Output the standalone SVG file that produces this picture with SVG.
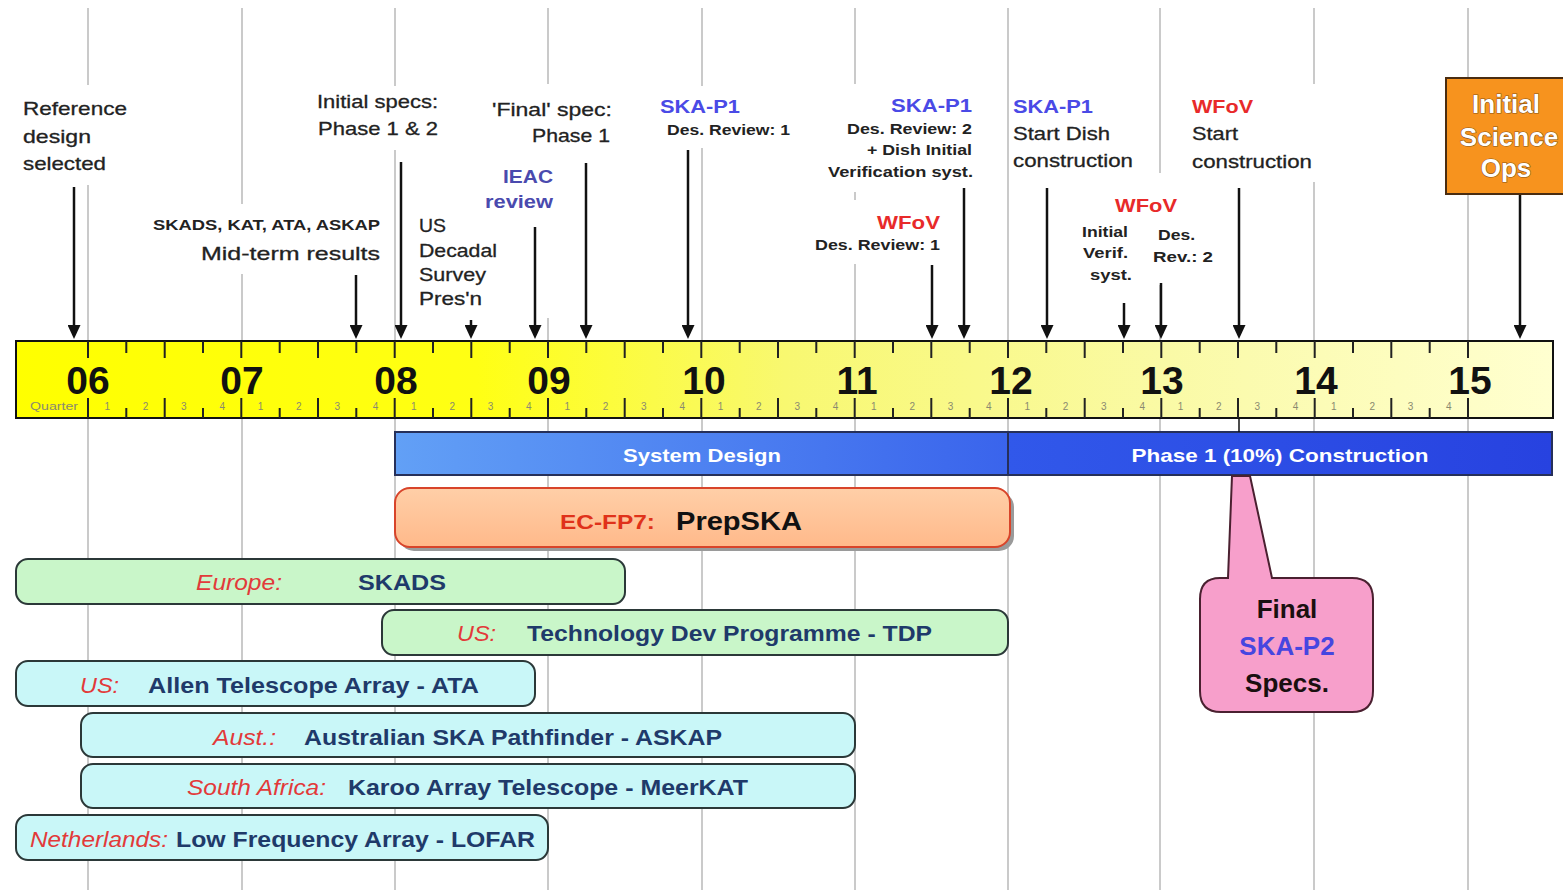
<svg xmlns="http://www.w3.org/2000/svg" width="1563" height="890" viewBox="0 0 1563 890">
<style>
text{font-family:'Liberation Sans',Arial,sans-serif}
.grid{stroke:#cacaca;stroke-width:2;fill:none}
.mask{fill:#fff}
.arrow{stroke:#111;stroke-width:2.5;fill:none;marker-end:url(#ah)}
.lbl{font-size:19px;fill:#222;stroke:#222;stroke-width:0.3}
.sm{font-size:15px;font-weight:bold;fill:#222}
.skab{font-size:19px;font-weight:bold;fill:#4a4ae6}
.ieac{font-size:19px;font-weight:bold;fill:#4a4aae}
.wfov{font-size:19px;font-weight:bold;fill:#e82a2a}
.yr{font-size:39px;font-weight:bold;fill:#111;text-anchor:middle}
.qn{font-size:10px;fill:#8a8a70;text-anchor:middle}
.tick{stroke:#222;stroke-width:2;fill:none}
.phase{font-size:19px;font-weight:bold;fill:#fff;text-anchor:middle}
.pbar{stroke:#26305a;stroke-width:2}
.green{fill:#c9f6c9;stroke:#2b3838;stroke-width:2}
.cyan{fill:#c9f7f8;stroke:#2b3838;stroke-width:2}
.cty{font-size:22px;font-style:italic;fill:#e23a3a}
.prj{font-size:22px;font-weight:bold;fill:#1f3a6a}
.big{font-size:26px;font-weight:bold;text-anchor:middle}
</style>
<defs>
<linearGradient id="rulerg" x1="0" y1="0" x2="1" y2="0">
<stop offset="0" stop-color="#ffff00"/>
<stop offset="0.3" stop-color="#ffff14"/>
<stop offset="0.5" stop-color="#f8f870"/>
<stop offset="0.75" stop-color="#fafaa6"/>
<stop offset="1" stop-color="#ffffd0"/>
</linearGradient>
<linearGradient id="sdg" x1="0" y1="0" x2="1" y2="0">
<stop offset="0" stop-color="#62a0f6"/>
<stop offset="1" stop-color="#3a64ec"/>
</linearGradient>
<linearGradient id="p1g" x1="0" y1="0" x2="1" y2="0">
<stop offset="0" stop-color="#3158ea"/>
<stop offset="1" stop-color="#2742e0"/>
</linearGradient>
<linearGradient id="peachg" x1="0" y1="0" x2="0" y2="1">
<stop offset="0" stop-color="#ffcfa8"/>
<stop offset="1" stop-color="#ffb98a"/>
</linearGradient>
<marker id="ah" markerUnits="userSpaceOnUse" markerWidth="14" markerHeight="13" viewBox="0 0 14 13" refX="10" refY="6.5" orient="auto">
<path d="M0,0 L14,6.5 L0,13 Z" fill="#111"/>
</marker>
</defs>
<rect width="1563" height="890" fill="#fff"/>

<g id="grid">
<path class="grid" d="M88,8V890M242,8V890M395,8V890M548,8V890M702,8V890M855,8V890M1008,8V890M1160,8V890M1314,8V890M1468,8V890"/>
</g>

<g id="label-masks">
<rect class="mask" x="18" y="85" width="114" height="100"/>
<rect class="mask" x="310" y="86" width="132" height="64"/>
<rect class="mask" x="148" y="204" width="238" height="70"/>
<rect class="mask" x="412" y="210" width="90" height="100"/>
<rect class="mask" x="478" y="84" width="140" height="234"/>
<rect class="mask" x="655" y="86" width="140" height="62"/>
<rect class="mask" x="822" y="84" width="155" height="108"/>
<rect class="mask" x="808" y="200" width="140" height="64"/>
<rect class="mask" x="1011" y="86" width="128" height="88"/>
<rect class="mask" x="1186" y="84" width="132" height="98"/>
<rect class="mask" x="1075" y="173" width="142" height="112"/>
</g>

<g id="ruler">
<rect x="16" y="341" width="1537" height="77" fill="url(#rulerg)" stroke="#111" stroke-width="2"/>
<path class="tick" d="M88,341V358M126.3,341V353M164.7,341V358M203,341V353M241.3,341V358M279.7,341V353M318,341V358M356.3,341V353M394.7,341V358M433,341V353M471.3,341V358M509.7,341V353M548,341V358M586.3,341V353M624.7,341V358M663,341V353M701.3,341V358M739.7,341V353M778,341V358M816.3,341V353M854.7,341V358M893,341V353M931.3,341V358M969.7,341V353M1008,341V358M1046.3,341V353M1084.7,341V358M1123,341V353M1161.3,341V358M1199.7,341V353M1238,341V358M1276.3,341V353M1314.7,341V358M1353,341V353M1391.3,341V358M1429.7,341V353M1468,341V358"/>
<path class="tick" d="M88,418V398M126.3,418V408M164.7,418V398M203,418V408M241.3,418V398M279.7,418V408M318,418V398M356.3,418V408M394.7,418V398M433,418V408M471.3,418V398M509.7,418V408M548,418V398M586.3,418V408M624.7,418V398M663,418V408M701.3,418V398M739.7,418V408M778,418V398M816.3,418V408M854.7,418V398M893,418V408M931.3,418V398M969.7,418V408M1008,418V398M1046.3,418V408M1084.7,418V398M1123,418V408M1161.3,418V398M1199.7,418V408M1238,418V398M1276.3,418V408M1314.7,418V398M1353,418V408M1391.3,418V398M1429.7,418V408M1468,418V398"/>
<text class="yr" x="88" y="394">06</text>
<text class="yr" x="242" y="394">07</text>
<text class="yr" x="396" y="394">08</text>
<text class="yr" x="549" y="394">09</text>
<text class="yr" x="704" y="394">10</text>
<text class="yr" x="857" y="394">11</text>
<text class="yr" x="1011" y="394">12</text>
<text class="yr" x="1162" y="394">13</text>
<text class="yr" x="1316" y="394">14</text>
<text class="yr" x="1470" y="394">15</text>
<text x="30" y="410" font-size="10" fill="#8a8a70" textLength="48" lengthAdjust="spacingAndGlyphs">Quarter</text>
<text class="qn" y="410" x="107.2 145.5 183.8 222.2 260.5 298.8 337.2 375.5 413.8 452.2 490.5 528.8 567.2 605.5 643.8 682.2 720.5 758.8 797.2 835.5 873.8 912.2 950.5 988.8 1027.2 1065.5 1103.8 1142.2 1180.5 1218.8 1257.2 1295.5 1333.8 1372.2 1410.5 1448.8">123412341234123412341234123412341234</text>
</g>

<g id="phases">
<rect class="pbar" x="395" y="432" width="613" height="43" fill="url(#sdg)"/>
<text class="phase" x="702" y="462" textLength="158" lengthAdjust="spacingAndGlyphs">System Design</text>
<rect class="pbar" x="1008" y="432" width="544" height="43" fill="url(#p1g)"/>
<text class="phase" x="1280" y="462" textLength="297" lengthAdjust="spacingAndGlyphs">Phase 1 (10%) Construction</text>
</g>

<g id="prepska">
<rect x="399" y="492" width="615" height="59" rx="15" fill="#9a9a9a"/>
<rect x="395" y="488" width="615" height="59" rx="15" fill="url(#peachg)" stroke="#d8442a" stroke-width="2"/>
<text x="560" y="529" font-size="21" font-weight="bold" fill="#e0321a" textLength="95" lengthAdjust="spacingAndGlyphs">EC-FP7:</text>
<text x="676" y="530" font-size="26" font-weight="bold" fill="#111" textLength="126" lengthAdjust="spacingAndGlyphs">PrepSKA</text>
</g>

<g id="skads">
<rect class="green" x="16" y="559" width="609" height="45" rx="12"/>
<text class="cty" x="196" y="590" textLength="86" lengthAdjust="spacingAndGlyphs">Europe:</text>
<text class="prj" x="358" y="590" textLength="88" lengthAdjust="spacingAndGlyphs">SKADS</text>
</g>
<g id="tdp">
<rect class="green" x="382" y="610" width="626" height="45" rx="12"/>
<text class="cty" x="457" y="641" textLength="39" lengthAdjust="spacingAndGlyphs">US:</text>
<text class="prj" x="527" y="641" textLength="405" lengthAdjust="spacingAndGlyphs">Technology Dev Programme - TDP</text>
</g>
<g id="ata">
<rect class="cyan" x="16" y="661" width="519" height="45" rx="12"/>
<text class="cty" x="80" y="693" textLength="39" lengthAdjust="spacingAndGlyphs">US:</text>
<text class="prj" x="148" y="693" textLength="331" lengthAdjust="spacingAndGlyphs">Allen Telescope Array - ATA</text>
</g>
<g id="askap">
<rect class="cyan" x="81" y="713" width="774" height="44" rx="12"/>
<text class="cty" x="213" y="745" textLength="63" lengthAdjust="spacingAndGlyphs">Aust.:</text>
<text class="prj" x="304" y="745" textLength="418" lengthAdjust="spacingAndGlyphs">Australian SKA Pathfinder - ASKAP</text>
</g>
<g id="meerkat">
<rect class="cyan" x="81" y="764" width="774" height="44" rx="12"/>
<text class="cty" x="187" y="795" textLength="139" lengthAdjust="spacingAndGlyphs">South Africa:</text>
<text class="prj" x="348" y="795" textLength="400" lengthAdjust="spacingAndGlyphs">Karoo Array Telescope - MeerKAT</text>
</g>
<g id="lofar">
<rect class="cyan" x="16" y="815" width="532" height="45" rx="12"/>
<text class="cty" x="30" y="847" textLength="138" lengthAdjust="spacingAndGlyphs">Netherlands:</text>
<text class="prj" x="176" y="847" textLength="359" lengthAdjust="spacingAndGlyphs">Low Frequency Array - LOFAR</text>
</g>

<g id="ska-p2-callout">
<path d="M1220,578 L1228,578 L1232,476 L1250,476 L1272,578 L1352,578 Q1373,578 1373,599 L1373,691 Q1373,712 1352,712 L1221,712 Q1200,712 1200,691 L1200,599 Q1200,578 1220,578 Z" fill="#f79fcb" stroke="#4a2030" stroke-width="2"/>
<text class="big" x="1287" y="618" fill="#1a1010">Final</text>
<text class="big" x="1287" y="655" fill="#4646e0">SKA-P2</text>
<text class="big" x="1287" y="692" fill="#1a1010">Specs.</text>
</g>

<g id="science-ops">
<rect x="1446" y="78" width="125" height="116" fill="#f7931e" stroke="#4a2c10" stroke-width="2"/>
<g font-size="26" font-weight="bold" fill="#fff" stroke="#8a5418" stroke-width="1.2" paint-order="stroke" text-anchor="middle">
<text x="1506" y="113">Initial</text>
<text x="1509" y="146">Science</text>
<text x="1506" y="177">Ops</text>
</g>
</g>

<g id="ref-design">
<text class="lbl" x="23" y="115" textLength="104" lengthAdjust="spacingAndGlyphs">Reference</text>
<text class="lbl" x="23" y="143" textLength="68" lengthAdjust="spacingAndGlyphs">design</text>
<text class="lbl" x="23" y="170" textLength="83" lengthAdjust="spacingAndGlyphs">selected</text>
</g>
<g id="initial-specs">
<text class="lbl" x="317" y="108" textLength="121" lengthAdjust="spacingAndGlyphs">Initial specs:</text>
<text class="lbl" x="318" y="135" textLength="120" lengthAdjust="spacingAndGlyphs">Phase 1 &amp; 2</text>
</g>
<g id="midterm">
<text class="sm" x="153" y="230" textLength="227" lengthAdjust="spacingAndGlyphs">SKADS, KAT, ATA, ASKAP</text>
<text class="lbl" x="201" y="260" textLength="179" lengthAdjust="spacingAndGlyphs">Mid-term results</text>
</g>
<g id="us-decadal">
<text class="lbl" x="419" y="232" font-size="17" textLength="27" lengthAdjust="spacingAndGlyphs">US</text>
<text class="lbl" x="419" y="257" font-size="17" textLength="78" lengthAdjust="spacingAndGlyphs">Decadal</text>
<text class="lbl" x="419" y="281" font-size="17" textLength="67" lengthAdjust="spacingAndGlyphs">Survey</text>
<text class="lbl" x="419" y="305" font-size="17" textLength="63" lengthAdjust="spacingAndGlyphs">Pres'n</text>
</g>
<g id="ieac">
<text class="ieac" x="503" y="183" textLength="50" lengthAdjust="spacingAndGlyphs">IEAC</text>
<text class="ieac" x="485" y="208" textLength="68" lengthAdjust="spacingAndGlyphs">review</text>
</g>
<g id="final-spec">
<text class="lbl" x="492" y="116" textLength="120" lengthAdjust="spacingAndGlyphs">'Final' spec:</text>
<text class="lbl" x="532" y="142" textLength="78" lengthAdjust="spacingAndGlyphs">Phase 1</text>
</g>
<g id="skap1-dr1">
<text class="skab" x="660" y="113" textLength="80" lengthAdjust="spacingAndGlyphs">SKA-P1</text>
<text class="sm" x="667" y="135" textLength="123" lengthAdjust="spacingAndGlyphs">Des. Review: 1</text>
</g>
<g id="skap1-dr2">
<text class="skab" x="891" y="112" textLength="81" lengthAdjust="spacingAndGlyphs">SKA-P1</text>
<text class="sm" x="847" y="134" textLength="125" lengthAdjust="spacingAndGlyphs">Des. Review: 2</text>
<text class="sm" x="867" y="155" textLength="105" lengthAdjust="spacingAndGlyphs">+ Dish Initial</text>
<text class="sm" x="828" y="177" textLength="145" lengthAdjust="spacingAndGlyphs">Verification syst.</text>
</g>
<g id="wfov-dr1">
<text class="wfov" x="877" y="229" textLength="63" lengthAdjust="spacingAndGlyphs">WFoV</text>
<text class="sm" x="815" y="250" textLength="125" lengthAdjust="spacingAndGlyphs">Des. Review: 1</text>
</g>
<g id="skap1-dish">
<text class="skab" x="1013" y="113" textLength="80" lengthAdjust="spacingAndGlyphs">SKA-P1</text>
<text class="lbl" x="1013" y="140" font-size="20" textLength="97" lengthAdjust="spacingAndGlyphs">Start Dish</text>
<text class="lbl" x="1013" y="167" font-size="20" textLength="120" lengthAdjust="spacingAndGlyphs">construction</text>
</g>
<g id="wfov-start">
<text class="wfov" x="1192" y="113" textLength="61" lengthAdjust="spacingAndGlyphs">WFoV</text>
<text class="lbl" x="1192" y="140" font-size="20" fill="#333" stroke="#333" textLength="46" lengthAdjust="spacingAndGlyphs">Start</text>
<text class="lbl" x="1192" y="168" font-size="20" fill="#333" stroke="#333" textLength="120" lengthAdjust="spacingAndGlyphs">construction</text>
</g>
<g id="wfov-verif">
<text class="wfov" x="1115" y="212" textLength="62" lengthAdjust="spacingAndGlyphs">WFoV</text>
<text class="sm" x="1082" y="237" textLength="46" lengthAdjust="spacingAndGlyphs">Initial</text>
<text class="sm" x="1083" y="258" textLength="45" lengthAdjust="spacingAndGlyphs">Verif.</text>
<text class="sm" x="1090" y="280" textLength="42" lengthAdjust="spacingAndGlyphs">syst.</text>
<text class="sm" x="1158" y="240" textLength="37" lengthAdjust="spacingAndGlyphs">Des.</text>
<text class="sm" x="1153" y="262" textLength="60" lengthAdjust="spacingAndGlyphs">Rev.: 2</text>
</g>

<g id="connectors">
<path class="arrow" d="M74,187V335"/>
<path class="arrow" d="M356,275V335"/>
<path class="arrow" d="M401,162V335"/>
<path class="arrow" d="M471,320V335"/>
<path class="arrow" d="M535,227V335"/>
<path class="arrow" d="M586,163V335"/>
<path class="arrow" d="M688,150V335"/>
<path class="arrow" d="M932,265V335"/>
<path class="arrow" d="M964,188V335"/>
<path class="arrow" d="M1047,188V335"/>
<path class="arrow" d="M1124,303V335"/>
<path class="arrow" d="M1161,283V335"/>
<path class="arrow" d="M1239,188V335"/>
<path class="arrow" d="M1520,195V335"/>
<path d="M1239,418V432" stroke="#111" stroke-width="1.5"/>
</g>
</svg>
